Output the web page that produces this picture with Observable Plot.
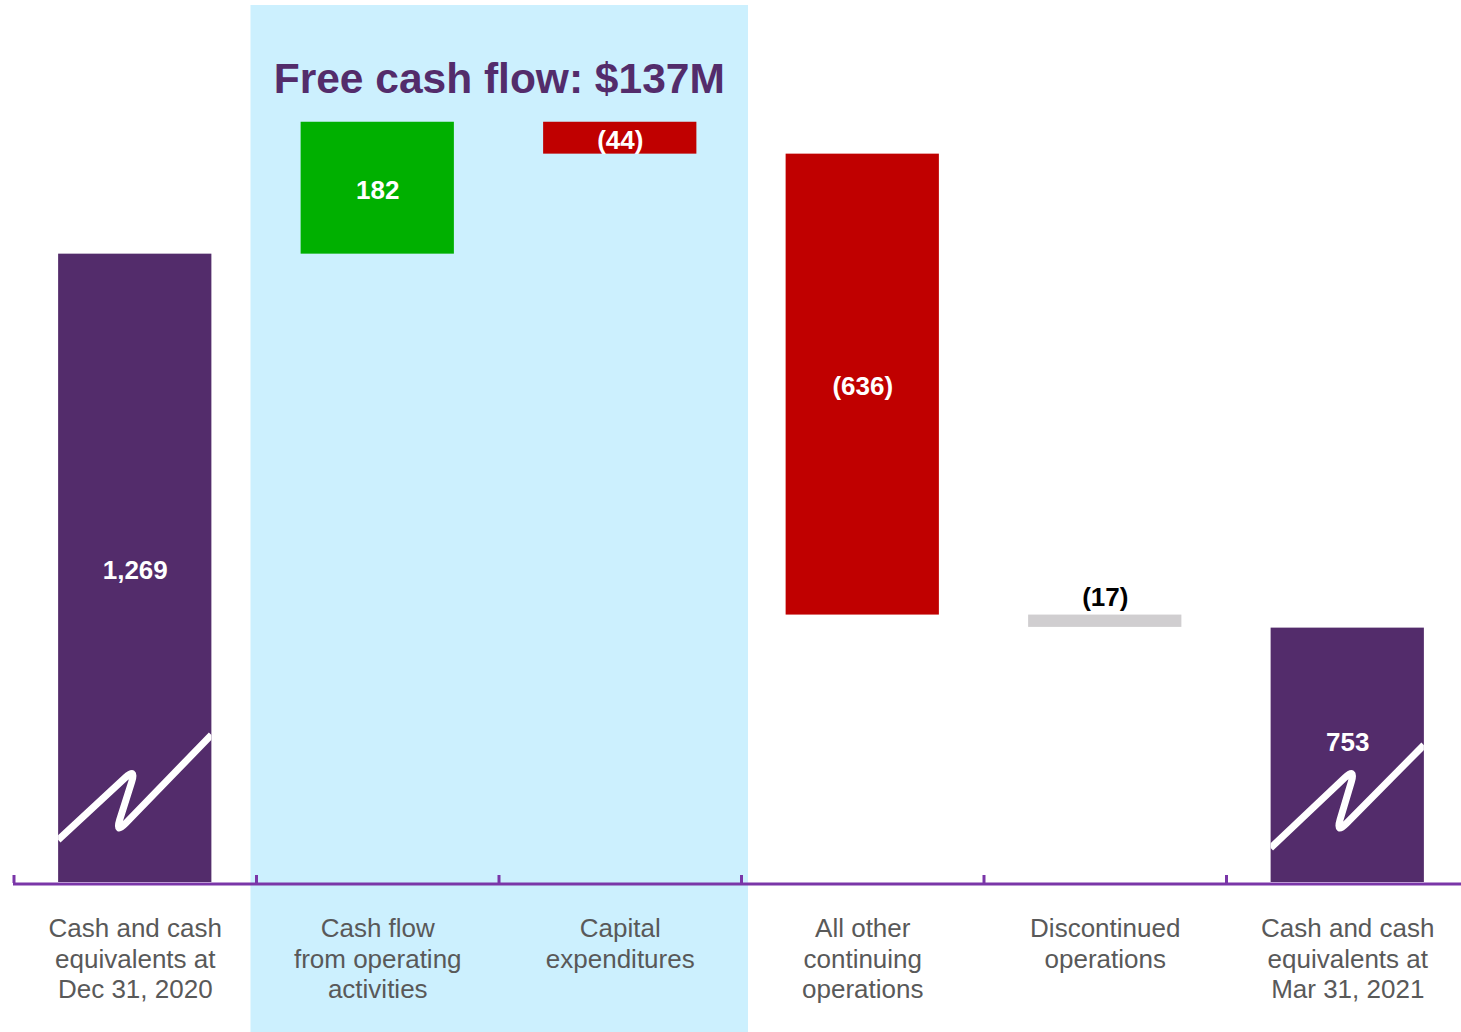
<!DOCTYPE html>
<html>
<head>
<meta charset="utf-8">
<script src="https://cdn.jsdelivr.net/npm/d3@7"></script>
<script src="https://cdn.jsdelivr.net/npm/@observablehq/plot@0.6"></script>
<style>
  html, body { margin: 0; padding: 0; background: #ffffff; }
  svg { display: block; }
</style>
</head>
<body>
<div id="chart"></div>
<script>
// ---------- data ----------
const categories = [
  "Cash and cash\nequivalents at\nDec 31, 2020",
  "Cash flow\nfrom operating\nactivities",
  "Capital\nexpenditures",
  "All other\ncontinuing\noperations",
  "Discontinued\noperations",
  "Cash and cash\nequivalents at\nMar 31, 2021"
];
const values = [1269, 182, -44, -636, -17, 753];
const kinds = ["total", "increase", "decrease", "decrease", "discontinued", "total"];
const valueLabels = ["1,269", "182", "(44)", "(636)", "(17)", "753"];
const highlighted = ["Cash flow\nfrom operating\nactivities", "Capital\nexpenditures"];
const highlightTitle = "Free cash flow: $137M";
const axisFloor = 402;   // value at the broken axis line
const axisTop = 1619;

// ---------- styles ----------
const kindDomain = ["total", "increase", "decrease", "discontinued"];
const kindColors = ["#532C6B", "#00B000", "#C00000", "#D0CED0"];
const axisColor = "#7A36A8";
const font = "'Liberation Sans', Arial, Helvetica, sans-serif";

// ---------- waterfall rows ----------
let running = 0;
const rows = categories.map((cat, i) => {
  const v = values[i], kind = kinds[i];
  let lo, hi;
  if (kind === "total") { lo = axisFloor; hi = v; running = v; }
  else { const s = running; running += v; lo = Math.min(s, running); hi = Math.max(s, running); }
  return { cat, kind, lo, hi, mid: (lo + hi) / 2, label: valueLabels[i], i };
});

// ---------- helpers ----------
function bandInfo(x) {
  const step = x(categories[1]) - x(categories[0]);
  let bw = typeof x.bandwidth === "function" ? x.bandwidth() : x.bandwidth;
  if (!(bw > 0)) bw = step * 0.632;
  return { step, bw, gap: (step - bw) / 2 };
}
function toward(p, q, r) {
  const dx = q[0] - p[0], dy = q[1] - p[1], L = Math.hypot(dx, dy);
  return [p[0] + dx / L * r, p[1] + dy / L * r];
}
function roundedPath(p, r) {
  let d = `M${p[0][0]},${p[0][1]}`;
  for (let i = 1; i < p.length - 1; i++) {
    const a = toward(p[i], p[i - 1], r), b = toward(p[i], p[i + 1], r);
    d += `L${a[0]},${a[1]}C${(a[0] + 2 * p[i][0]) / 3},${(a[1] + 2 * p[i][1]) / 3} ${(b[0] + 2 * p[i][0]) / 3},${(b[1] + 2 * p[i][1]) / 3} ${b[0]},${b[1]}`;
  }
  const last = p[p.length - 1];
  return d + `L${last[0]},${last[1]}`;
}

// highlighted band + its title
function highlightBand(index, scales, vals, dims) {
  const x = scales.x;
  const { bw, gap } = bandInfo(x);
  const x1 = x(highlighted[0]) - gap - 5.5;
  const x2 = x(highlighted[1]) + bw + gap + 7;
  const g = d3.create("svg:g");
  g.append("rect").attr("x", x1).attr("y", 5).attr("width", x2 - x1)
    .attr("height", dims.height - 5).attr("fill", "#CCF0FE");
  g.append("text").attr("x", (x1 + x2) / 2).attr("y", 93)
    .attr("text-anchor", "middle").attr("font-family", font)
    .attr("font-weight", "bold").attr("font-size", 42.5)
    .attr("fill", "#532C6B").text(highlightTitle);
  return g.node();
}

// axis-break squiggles on the two total bars (shape: fraction across bar, value)
function breakMarks(index, scales, vals, dims) {
  const x = scales.x, y = scales.y;
  const { bw } = bandInfo(x);
  const shapes = [
    [[0, 460], [0.51, 560], [0.372, 468], [1, 605]],
    [[0, 449], [0.555, 560], [0.425, 468], [1, 591]]
  ];
  const g = d3.create("svg:g");
  rows.filter(r => r.kind === "total").forEach((r, j) => {
    const x0 = x(r.cat);
    const pts = shapes[j].map(([f, v]) => [x0 + f * bw, y(v)]);
    const id = "break-clip-" + j;
    g.append("clipPath").attr("id", id).append("rect")
      .attr("x", x0).attr("y", y(r.hi)).attr("width", bw).attr("height", y(r.lo) - y(r.hi));
    g.append("path").attr("d", roundedPath(pts, 15)).attr("fill", "none")
      .attr("stroke", "#ffffff").attr("stroke-width", 7)
      .attr("clip-path", `url(#${id})`);
  });
  return g.node();
}

// small ticks at category boundaries
function boundaryTicks(index, scales, vals, dims) {
  const x = scales.x, y = scales.y;
  const { gap } = bandInfo(x);
  const y0 = y(axisFloor);
  const g = d3.create("svg:g").attr("stroke", axisColor).attr("stroke-width", 3);
  categories.forEach(c => {
    const bx = x(c) - gap + 0.5;
    g.append("line").attr("x1", bx).attr("x2", bx).attr("y1", y0 + 1).attr("y2", y0 - 7);
  });
  return g.node();
}

const insideRows = rows.filter(r => r.kind !== "discontinued" && r.i !== 5);
const endRow = rows.filter(r => r.i === 5);
const aboveRows = rows.filter(r => r.kind === "discontinued");

const chart = Plot.plot({
  width: 1461,
  height: 1032,
  marginLeft: 13,
  marginRight: 0,
  marginTop: 0,
  marginBottom: 150,
  style: { fontFamily: font, background: "#ffffff", overflow: "visible" },
  x: { domain: categories, range: [13.5, 1468.5], round: false, paddingInner: 0.368, paddingOuter: 0.184, axis: null },
  y: { domain: [axisFloor, axisTop], range: [882, 0], axis: null },
  color: { domain: kindDomain, range: kindColors },
  marks: [
    highlightBand,
    Plot.barY(rows, { x: "cat", y1: "lo", y2: "hi", fill: "kind" }),
    breakMarks,
    Plot.ruleY([axisFloor], { stroke: axisColor, strokeWidth: 3, dy: 1.5 }),
    boundaryTicks,
    Plot.text(insideRows, { x: "cat", y: "mid", text: "label", fill: "#ffffff",
      fontWeight: "bold", fontSize: 26, dy: 2 }),
    Plot.text(endRow, { x: "cat", y: "mid", text: "label", fill: "#ffffff",
      fontWeight: "bold", fontSize: 26, dy: -13 }),
    Plot.text(aboveRows, { x: "cat", y: "hi", text: "label", fill: "#000000",
      fontWeight: "bold", fontSize: 26, lineAnchor: "bottom", dy: -9 }),
    Plot.axisX({ tickSize: 0, tickPadding: 33, fontSize: 26, lineHeight: 1.17,
      color: "#595959", label: null })
  ]
});
document.getElementById("chart").appendChild(chart);
</script>
</body>
</html>
